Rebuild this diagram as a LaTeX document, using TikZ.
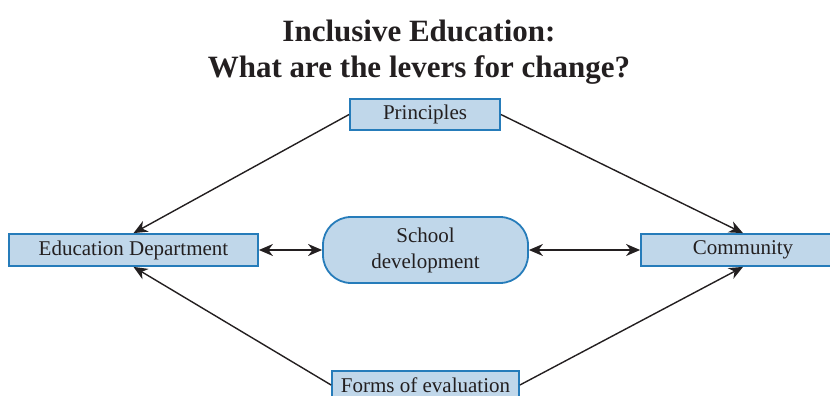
\documentclass[tikz,border=0pt]{standalone}
\usepackage{fontspec}
\setmainfont{Liberation Serif}
\usepackage{tikz}
\usepackage{xcolor}
\usetikzlibrary{positioning, arrows.meta}

\definecolor{leverfill}{RGB}{192,215,234}
\definecolor{leverline}{RGB}{38,124,186}
\definecolor{linkgray}{RGB}{35,31,32}

\begin{document}
\begin{tikzpicture}[x=0.5pt, y=-0.5pt, text=linkgray,
    lever/.style={rectangle, draw=leverline, fill=leverfill, line width=0.9pt, inner sep=0pt, font=\fontsize{10.5}{13}\selectfont},
    hub/.style={lever, rounded corners=14pt, align=center},
    link/.style={draw=linkgray, line width=0.7pt, -{Stealth[length=7pt, width=6pt, inset=2.2pt]}},
    twoway/.style={link, {Stealth[length=7pt, width=6pt, inset=2.2pt]}-{Stealth[length=7pt, width=6pt, inset=2.2pt]}}]
  \useasboundingbox (0,0) rectangle (830,396);
  \clip (0,0) rectangle (830,396);

  % title
  \node[font=\bfseries\fontsize{15.5}{18}\selectfont, align=center, anchor=base] (title) at (419,77) {Inclusive Education:\\What are the levers for change?};

  % levers
  \node[lever, minimum width=75pt, minimum height=15.5pt] (principles) at (425,114.5) {Principles};
  \node[lever, minimum width=124.5pt, minimum height=16pt] (edu) at (133.5,250) {Education Department};
  \node[hub, minimum width=102.5pt, minimum height=33pt] (school) at (425.5,250) {School\\development};
  \node[lever, minimum width=102pt, minimum height=16pt] (community) at (743,250) {Community};
  \node[lever, minimum width=93.5pt, minimum height=14pt] (forms) at (425.5,385) {Forms of evaluation};

  \draw[link] (principles.west) -- (edu.north);
  \draw[link] (principles.east) -- (community.north);
  \draw[link] (forms.west) -- (edu.south);
  \draw[link] (forms.east) -- (community.south);
  \draw[twoway] (edu) -- (school);
  \draw[twoway] (school) -- (community);
\end{tikzpicture}
\end{document}
